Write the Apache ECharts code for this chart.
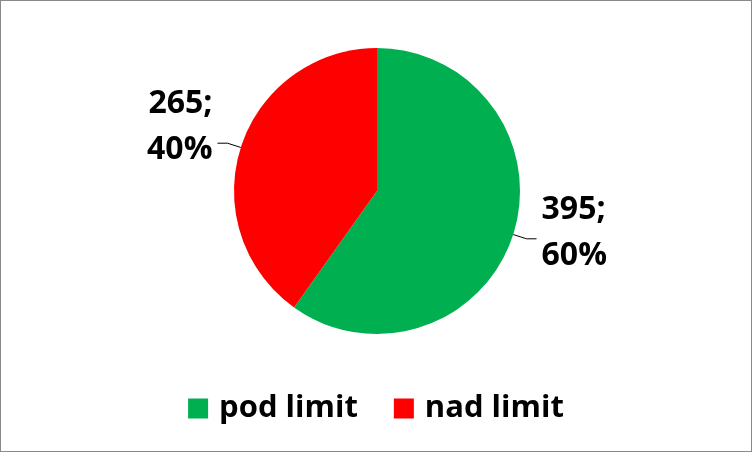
<!DOCTYPE html>
<html><head><meta charset="utf-8">
<script src="https://cdn.jsdelivr.net/npm/echarts@6/dist/echarts.min.js"></script>
<style>html,body{margin:0;padding:0;background:#fff}#c{width:752px;height:452px;box-sizing:border-box;border:1px solid #898989}</style>
</head><body><div id="c"></div>
<script>
const categories = ['pod limit', 'nad limit'];
const values = [395, 265];
const colors = ['#00B050', '#FF0000'];
const labelShiftY = [-6, -16];

const chart = echarts.init(document.getElementById('c'), null, {renderer: 'canvas'});
const total = values.reduce((a, b) => a + b, 0);
chart.setOption({
  animation: false,
  legend: {
    bottom: 22, left: 'center',
    itemWidth: 20, itemHeight: 20, itemGap: 36,
    icon: 'rect',
    textStyle: {fontFamily: 'Open Sans', fontWeight: 'bold', fontSize: 31, color: '#000', padding: [0, 0, 0, 6]},
    data: categories
  },
  series: [{
    type: 'pie',
    center: [376, 190],
    radius: 143,
    startAngle: 90,
    clockwise: true,
    data: categories.map((n, i) => ({name: n, value: values[i], itemStyle: {color: colors[i]}})),
    label: {
      show: true, position: 'outside',
      fontFamily: 'Open Sans', fontWeight: 'bold', fontSize: 32, color: '#000', lineHeight: 46,
      formatter: p => p.value + ';\n' + Math.round(p.value / total * 100) + '%'
    },
    labelLine: {show: true, length: 14, length2: 10, lineStyle: {color: '#000', width: 1}},
    labelLayout: p => ({dy: labelShiftY[p.dataIndex]})
  }]
});
</script></body></html>
